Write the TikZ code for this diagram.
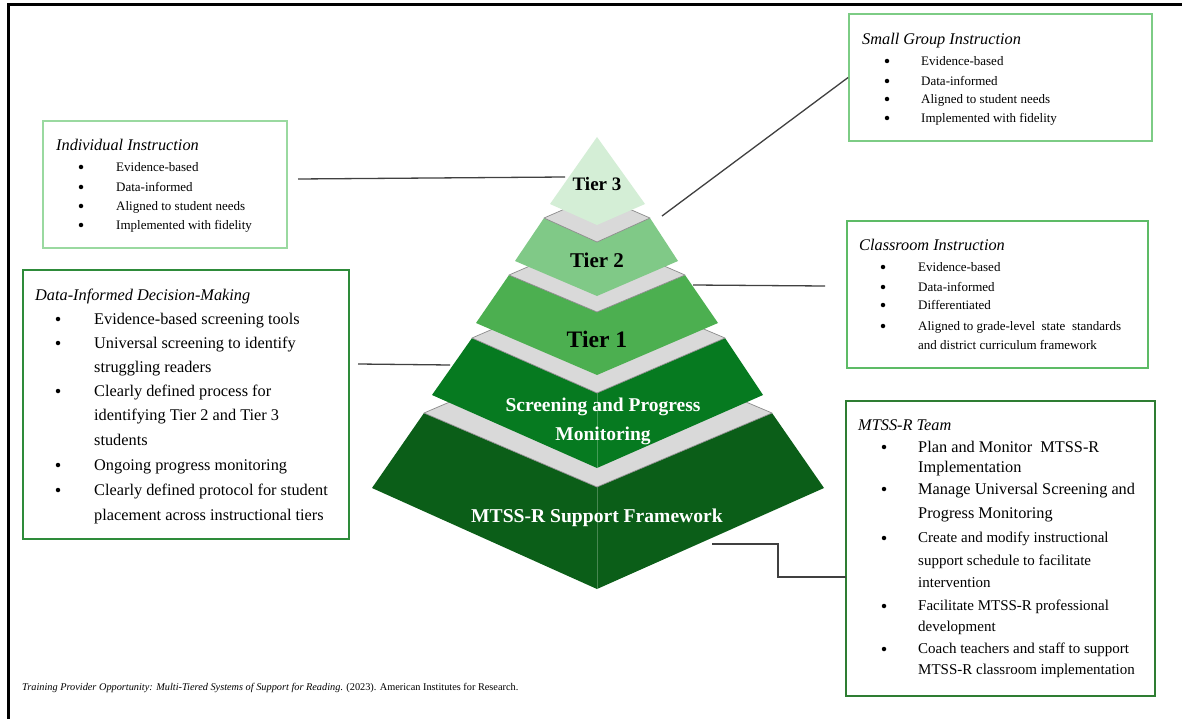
\documentclass[tikz,border=0pt]{standalone}
\usepackage{fontspec}
\setmainfont{Liberation Serif}
\definecolor{tthree}{HTML}{D4EED6}
\definecolor{ttwo}{HTML}{80C987}
\definecolor{tone}{HTML}{4CAF50}
\definecolor{tscr}{HTML}{067A20}
\definecolor{tbase}{HTML}{0B5E18}
\definecolor{tgray}{HTML}{D9D9D9}
\definecolor{tedge}{HTML}{8C8C8C}
\definecolor{conncol}{HTML}{404040}
\definecolor{bxa}{HTML}{9AD9A0}
\definecolor{bxb}{HTML}{7DCC85}
\definecolor{bxc}{HTML}{5DBB66}
\definecolor{bxd}{HTML}{2E8B3A}
\definecolor{bxe}{HTML}{2E7D32}
\begin{document}
\begin{tikzpicture}[x=1pt,y=-1pt,
  frame/.style={line width=2.5pt,black},
  conn/.style={draw=conncol,line width=1.3pt},
  box/.style={draw=#1,line width=1.8pt,inner sep=0pt,fill=none},
  grayface/.style={fill=tgray,draw=tedge,line width=0.7pt,line join=round},
  fedge/.style={draw=white,opacity=0.25,line width=0.6pt},
  tlbl/.style={inner sep=0pt,anchor=base,font=\bfseries\fontsize{#1}{#1}\selectfont},
  smt/.style={anchor=west,inner sep=0pt,text height=10.7pt,text depth=0pt,font=\itshape\fontsize{16.3}{18}\selectfont},
  sm/.style={anchor=west,inner sep=0pt,text height=8.6pt,text depth=0pt,font=\fontsize{13}{15}\selectfont},
  lg/.style={anchor=west,inner sep=0pt,text height=10.7pt,text depth=0pt,font=\fontsize{16.3}{18}\selectfont},
  md/.style={anchor=west,inner sep=0pt,text height=9.9pt,text depth=0pt,font=\fontsize{15}{17}\selectfont},
  bul/.style={circle,fill=black,inner sep=0pt,minimum size=#1},
  bul/.default=4.5pt
]
\useasboundingbox (0,0) rectangle (1182,719);
\fill[white] (0,0) rectangle (1182,719);
% outer frame
\draw[frame] (1182,4.5) -- (8.7,4.5) -- (8.7,719);

% ---------------- pyramid ----------------
% base tier
\fill[tbase] (424,413) -- (597,487) -- (772,413) -- (824,488) -- (597,589) -- (372,488) -- cycle;
\draw[fedge] (597,487) -- (597,589);
\filldraw[grayface] (424,413) -- (597,339) -- (772,413) -- (597,487) -- cycle;
% screening tier
\fill[tscr] (472,338) -- (597,393) -- (725,338) -- (763,395) -- (597,468) -- (432,395) -- cycle;
\draw[fedge] (597,393) -- (597,468);
\filldraw[grayface] (472,338) -- (597,284) -- (725,338) -- (597,393) -- cycle;
% tier 1
\fill[tone] (509,275) -- (597,312) -- (685,275) -- (718,323) -- (597,375) -- (476,323) -- cycle;
\filldraw[grayface] (509,275) -- (597,237) -- (685,275) -- (597,312) -- cycle;
% tier 2
\fill[ttwo] (544,218) -- (597,242) -- (650,218) -- (678,261) -- (597,296) -- (515,261) -- cycle;
\filldraw[grayface] (544,218) -- (597,195) -- (650,218) -- (597,242) -- cycle;
% tier 3
\fill[tthree] (597,137) -- (645,204) -- (597,225) -- (550,204) -- cycle;

% tier labels
\node[tlbl=19] (tierthree) at (597,191) {Tier 3};
\node[tlbl=21] (tiertwo) at (597,267) {Tier 2};
\node[tlbl=23.6] (tierone) at (597,347) {Tier 1};
\node[tlbl=19.5,text=white] (scrA) at (603,411) {Screening and Progress};
\node[tlbl=19.5,text=white] (scrB) at (603,440) {Monitoring};
\node[tlbl=19.6,text=white] (basel) at (597,522) {MTSS-R Support Framework};

% ---------------- boxes ----------------
\node[box=bxa,minimum width=244pt,minimum height=127pt] (indiv) at (165,184.5) {};
\node[box=bxb,minimum width=303pt,minimum height=127pt] (small) at (1000.5,77.5) {};
\node[box=bxc,minimum width=301pt,minimum height=147pt] (class) at (997.5,294.5) {};
\node[box=bxd,minimum width=326pt,minimum height=269pt] (data) at (186,404.5) {};
\node[box=bxe,minimum width=309pt,minimum height=295pt] (team) at (1000.5,548.5) {};

% Individual Instruction
\node[smt] (iT) at (56,145) {Individual Instruction};
\node[bul] (iB1) at (81,167) {}; \node[sm] (i1) at (116,167) {Evidence-based};
\node[bul] (iB2) at (81,187) {}; \node[sm] (i2) at (116,187) {Data-informed};
\node[bul] (iB3) at (81,206) {}; \node[sm] (i3) at (116,206) {Aligned to student needs};
\node[bul] (iB4) at (81,225) {}; \node[sm] (i4) at (116,225) {Implemented with fidelity};

% Small Group Instruction
\node[smt] (sT) at (862,39) {Small Group Instruction};
\node[bul] (sB1) at (887,61) {}; \node[sm] (s1) at (921,61) {Evidence-based};
\node[bul] (sB2) at (887,81) {}; \node[sm] (s2) at (921,81) {Data-informed};
\node[bul] (sB3) at (887,99) {}; \node[sm] (s3) at (921,99) {Aligned to student needs};
\node[bul] (sB4) at (887,118) {}; \node[sm] (s4) at (921,118) {Implemented with fidelity};

% Classroom Instruction
\node[smt] (cT) at (859,245) {Classroom Instruction};
\node[bul] (cB1) at (883,267) {}; \node[sm] (c1) at (918,267) {Evidence-based};
\node[bul] (cB2) at (883,287) {}; \node[sm] (c2) at (918,287) {Data-informed};
\node[bul] (cB3) at (883,305) {}; \node[sm] (c3) at (918,305) {Differentiated};
\node[bul] (cB4) at (883,326) {}; \node[sm] (c4) at (918,326) {Aligned to grade-level\ \ state\ \ standards};
\node[sm] (c5) at (918,345) {and district curriculum framework};

% Data-Informed Decision-Making
\node[smt] (dT) at (35,295) {Data-Informed Decision-Making};
\node[bul] (dB1) at (58,319) {}; \node[lg] (d1) at (94,319) {Evidence-based screening tools};
\node[bul] (dB2) at (58,343) {}; \node[lg] (d2) at (94,343) {Universal screening to identify};
\node[lg] (d3) at (94,367) {struggling readers};
\node[bul] (dB3) at (58,391) {}; \node[lg] (d4) at (94,391) {Clearly defined process for};
\node[lg] (d5) at (94,415) {identifying Tier 2 and Tier 3};
\node[lg] (d6) at (94,440) {students};
\node[bul] (dB4) at (58,465) {}; \node[lg] (d7) at (94,465) {Ongoing progress monitoring};
\node[bul] (dB5) at (58,490) {}; \node[lg] (d8) at (94,490) {Clearly defined protocol for student};
\node[lg] (d9) at (94,515) {placement across instructional tiers};

% MTSS-R Team
\node[smt] (mT) at (858,425) {MTSS-R Team};
\node[bul] (mB1) at (884,447) {}; \node[lg] (m1) at (918,447) {Plan and Monitor\ \ MTSS-R};
\node[lg] (m2) at (918,467) {Implementation};
\node[bul] (mB2) at (884,489) {}; \node[lg] (m3) at (918,489) {Manage Universal Screening and};
\node[lg] (m4) at (918,513) {Progress Monitoring};
\node[bul] (mB3) at (884,538) {}; \node[md] (m5) at (918,538) {Create and modify instructional};
\node[md] (m6) at (918,561) {support schedule to facilitate};
\node[md] (m7) at (918,583) {intervention};
\node[bul] (mB4) at (884,606) {}; \node[md] (m8) at (918,606) {Facilitate MTSS-R professional};
\node[md] (m9) at (918,627) {development};
\node[bul] (mB5) at (884,649) {}; \node[md] (m10) at (918,649) {Coach teachers and staff to support};
\node[md] (m11) at (918,670) {MTSS-R classroom implementation};

% footer
\node[anchor=west,inner sep=0pt,text height=6.8pt,text depth=0pt,font=\fontsize{10.3}{12}\selectfont] (foot) at (22,687)
  {\textit{Training Provider Opportunity: Multi-Tiered Systems of Support for Reading}. (2023). American Institutes for Research.};

% ---------------- connectors ----------------
\coordinate (pThree) at (565,177);
\coordinate (iEnd) at (298,179);
\coordinate (pTwo) at (662,216);
\coordinate (pOne) at (693,285);
\coordinate (cEnd) at (825,286);
\coordinate (pScr) at (450,365);
\coordinate (dEnd) at (358,364);
\coordinate (pBase) at (712,544);
\coordinate (bend) at (778,577);
\coordinate (tEnd) at (846,577);
\draw[conn] (iEnd) -- (pThree);
\draw[conn] (pTwo) -- (small.west);
\draw[conn] (pOne) -- (cEnd);
\draw[conn] (dEnd) -- (pScr);
\draw[conn] (pBase) -| (bend) -- (tEnd);
\end{tikzpicture}
\end{document}
